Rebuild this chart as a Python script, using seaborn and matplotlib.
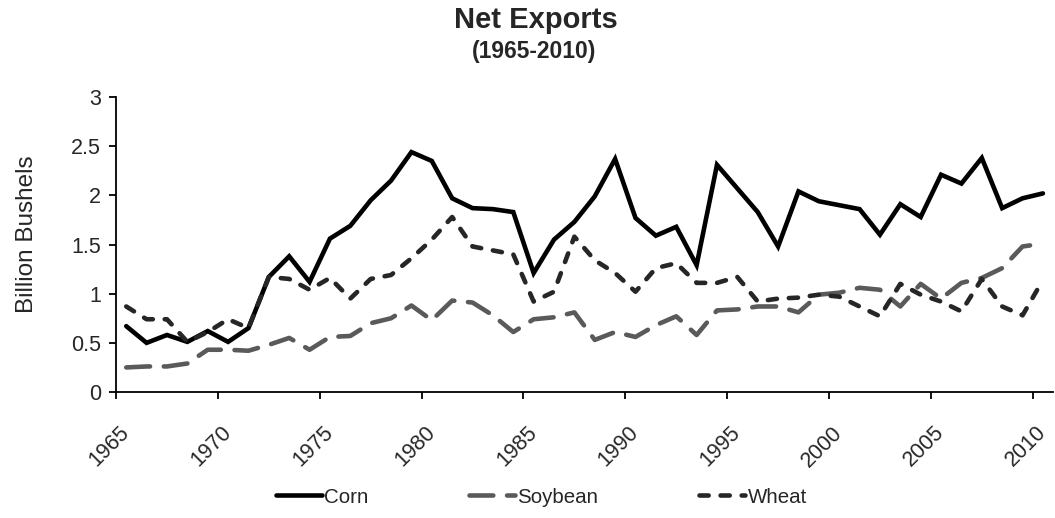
import numpy as np
import pandas as pd
import seaborn as sns
import matplotlib.pyplot as plt
from matplotlib.ticker import FixedLocator

# Net exports, billion bushels
years = list(range(1965, 2011))
corn = [0.67, 0.50, 0.58, 0.51, 0.62, 0.51, 0.65, 1.17, 1.38, 1.12,
        1.56, 1.69, 1.95, 2.15, 2.44, 2.35, 1.97, 1.87, 1.86, 1.83,
        1.21, 1.55, 1.73, 1.99, 2.37, 1.77, 1.59, 1.68, 1.29, 2.31,
        2.07, 1.83, 1.48, 2.04, 1.94, 1.90, 1.86, 1.60, 1.91, 1.78,
        2.21, 2.12, 2.38, 1.87, 1.97, 2.02]
soybean = [0.25, 0.26, 0.26, 0.29, 0.43, 0.43, 0.42, 0.48, 0.55, 0.43,
           0.56, 0.57, 0.70, 0.75, 0.88, 0.73, 0.93, 0.91, 0.78, 0.61,
           0.74, 0.76, 0.81, 0.53, 0.61, 0.56, 0.68, 0.77, 0.58, 0.83,
           0.84, 0.87, 0.87, 0.81, 0.99, 1.01, 1.06, 1.04, 0.87, 1.10,
           0.95, 1.11, 1.16, 1.26, 1.48, 1.51]
wheat = [0.87, 0.74, 0.74, 0.51, 0.61, 0.74, 0.65, 1.17, 1.15, 1.04,
         1.16, 0.95, 1.15, 1.19, 1.36, 1.55, 1.78, 1.48, 1.44, 1.40,
         0.92, 1.02, 1.58, 1.34, 1.21, 1.02, 1.26, 1.31, 1.11, 1.11,
         1.17, 0.92, 0.95, 0.96, 0.99, 0.97, 0.87, 0.77, 1.10, 0.99,
         0.92, 0.82, 1.15, 0.87, 0.78, 1.14]
crops = ["Corn", "Soybean", "Wheat"]
ytick_vals = [0, 0.5, 1, 1.5, 2, 2.5, 3]
ytick_labels = ["0", "0.5", "1", "1.5", "2", "2.5", "3"]

# long-form table for seaborn
df = pd.concat([
    pd.DataFrame({"year": years, "value": corn, "crop": "Corn"}),
    pd.DataFrame({"year": years, "value": soybean, "crop": "Soybean"}),
    pd.DataFrame({"year": years, "value": wheat, "crop": "Wheat"}),
], ignore_index=True)

sns.set_theme(style="white")
plt.rcParams["font.family"] = ["Liberation Sans", "DejaVu Sans"]

fig = plt.figure(figsize=(10.55, 5.18), dpi=100)
ax = fig.add_axes([0.110, 0.2432, 0.8882, 0.5695])

palette = {"Corn": "#000000", "Soybean": "#5a5a5a", "Wheat": "#262626"}
dashes = {"Corn": "", "Soybean": (5.2, 3.0), "Wheat": (2.0, 2.6)}
sns.lineplot(data=df, x="year", y="value", hue="crop", style="crop",
             hue_order=crops, style_order=crops, palette=palette,
             dashes=dashes, linewidth=3.3, legend=False, ax=ax,
             dash_capstyle="round", solid_joinstyle="miter")

ax.set_xlim(1964.5, 2010.5)
ax.set_ylim(0, 3)
ax.set_yticks(ytick_vals)
ax.set_yticklabels(ytick_labels)

# labels on the years, tick marks between categories
ax.xaxis.set_major_locator(FixedLocator(list(range(1965, 2011, 5))))
ax.xaxis.set_minor_locator(FixedLocator([y - 0.5 for y in range(1965, 2011, 5)]))
ax.tick_params(axis="x", which="major", length=0, pad=27, labelsize=15.5)
ax.tick_params(axis="x", which="minor", bottom=True, length=5, width=1.3,
               direction="out", color="black")
ax.tick_params(axis="y", which="major", left=True, length=5, width=1.3,
               direction="out", color="black", pad=6, labelsize=15.5)
for lab in ax.get_xticklabels():
    lab.set_rotation(45)
    lab.set_ha("right")
    lab.set_va("center")
    lab.set_rotation_mode("anchor")

for side in ["top", "right"]:
    ax.spines[side].set_visible(False)
for side in ["left", "bottom"]:
    ax.spines[side].set_color("black")
    ax.spines[side].set_linewidth(1.3)

ax.set_xlabel("")
ax.set_ylabel("Billion Bushels", fontsize=17.5)
ax.yaxis.set_label_coords(-0.083, 0.536)

fig.text(0.508, 0.946, "Net Exports", ha="center", va="baseline",
         fontsize=21, fontweight="bold")
fig.text(0.506, 0.888, "(1965-2010)", ha="center", va="baseline",
         fontsize=16.5, fontweight="bold")

handles = ax.get_lines()[:3]
fig.legend(handles, crops, loc="center", bbox_to_anchor=(0.513, 0.0405),
           ncol=3, frameon=False, fontsize=14.8, handlelength=2.25,
           handletextpad=0.1, columnspacing=4.9)

fig.savefig("out.png", dpi=100)
